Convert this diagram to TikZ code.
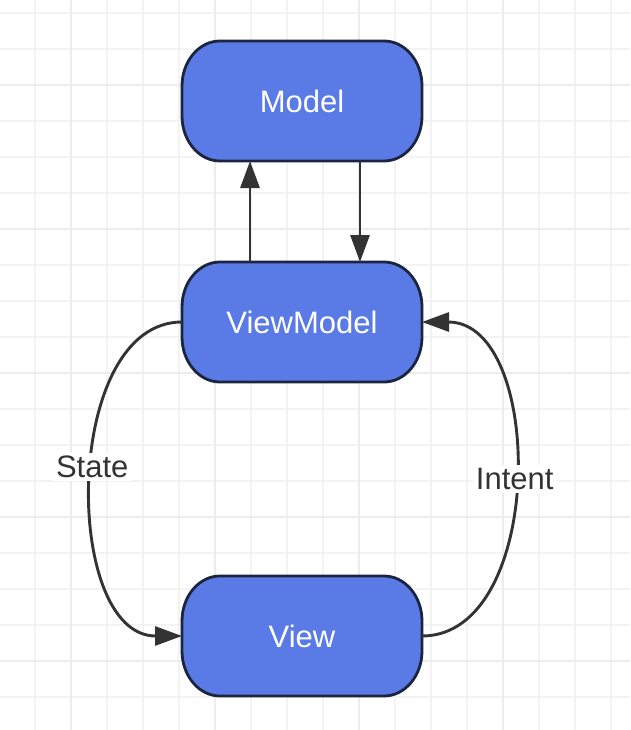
\documentclass[tikz,border=0pt]{standalone}
\usepackage{xcolor}
\usepackage{fontspec}
\setsansfont{Liberation Sans}
\usepackage{tikz}
\usetikzlibrary{arrows.meta,positioning,backgrounds,calc}
\definecolor{mviFill}{HTML}{5A7AE6}
\definecolor{mviEdge}{HTML}{1B2540}
\definecolor{mviInk}{HTML}{333333}
\definecolor{mviGrid}{HTML}{F3F3F3}
\definecolor{mviGridMajor}{HTML}{ECECEC}
\pgfdeclarelayer{grid}
\pgfsetlayers{grid,background,main}
\tikzset{
  mviState/.style={
    minimum width=240pt,
    minimum height=120pt,
    inner sep=0pt,
    outer sep=0pt,
    text=white,
    font=\sffamily\fontsize{31}{36}\selectfont
  },
  mviPill/.style={
    fill=mviFill,
    draw=mviEdge,
    line width=2.8pt
  },
  mviLabel/.style={
    fill=white,
    inner sep=3pt,
    text=mviInk,
    font=\sffamily\fontsize{31}{36}\selectfont
  },
  mviArrow/.style={
    -{Triangle[length=27pt,width=19pt]},
    line width=2.9pt,
    draw=mviInk
  },
  gridMinor/.style={
    draw=mviGrid,
    line width=1.5pt
  },
  gridMajor/.style={
    draw=mviGridMajor,
    line width=2pt
  }
}

\begin{document}
\begin{tikzpicture}[x=1pt,y=-1pt]
  \useasboundingbox (0,0) rectangle (630,730);

  % paper grid
  \begin{pgfonlayer}{grid}
    \fill[white] (0,0) rectangle (630,730);
    \foreach \k in {-1,...,16} \draw[gridMinor] ({35+36*\k},0) -- ({35+36*\k},730);
    \foreach \k in {0,...,19} \draw[gridMinor] (0,{13+36*\k}) -- (630,{13+36*\k});
    \foreach \k in {0,...,3} \draw[gridMajor] ({71+144*\k},0) -- ({71+144*\k},730);
    \foreach \k in {0,...,4} \draw[gridMajor] (0,{85+144*\k}) -- (630,{85+144*\k});
  \end{pgfonlayer}

  \node[mviState] (model) at (302,101) {Model};
  \node[mviState, below=101pt of model] (viewmodel) {ViewModel};
  \node[mviState, below=194pt of viewmodel] (view) {View};

  \begin{pgfonlayer}{background}
    \foreach \n in {model,viewmodel,view}
      \path[mviPill] ($(\n.north west)+(38pt,0pt)$) -- ++(164pt,0pt)
        arc[start angle=90, end angle=0, x radius=38pt, y radius=45pt] -- ++(0pt,-30pt)
        arc[start angle=0, end angle=-90, x radius=38pt, y radius=45pt] -- ++(-164pt,0pt)
        arc[start angle=270, end angle=180, x radius=38pt, y radius=45pt] -- ++(0pt,30pt)
        arc[start angle=180, end angle=90, x radius=38pt, y radius=45pt] -- cycle;
  \end{pgfonlayer}

  \draw[mviArrow] ([xshift=-52pt]viewmodel.north) -- ([xshift=-52pt]model.south);
  \draw[mviArrow] ([xshift=58pt]model.south) -- ([xshift=58pt]viewmodel.north);
  \draw[mviArrow] (viewmodel.west) to[out=180, in=180, looseness=0.98]
    node[mviLabel, pos=0.475] (state) {State} (view.west);
  \draw[mviArrow] (view.east) to[out=0, in=0, looseness=1.01]
    node[mviLabel, pos=0.5] (intent) {Intent} (viewmodel.east);
\end{tikzpicture}
\end{document}
